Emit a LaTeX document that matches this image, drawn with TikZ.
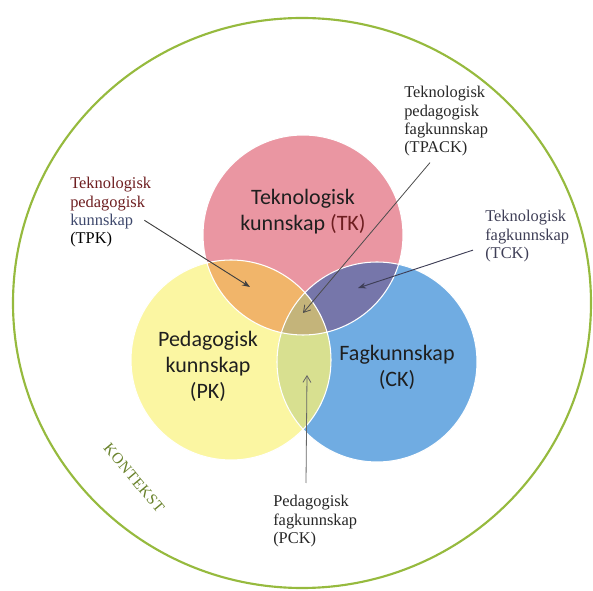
\documentclass[tikz,border=0pt]{standalone}
\usepackage{fontspec}
\setmainfont{Liberation Serif}
\newfontfamily\vennfont{Carlito}
\newfontfamily\ringfont[LetterSpace=4]{Liberation Serif}
\usepackage{xcolor}
\usepackage{tikz}
\usetikzlibrary{positioning,calc,arrows.meta}

\definecolor{tkpink}{RGB}{234,150,162}
\definecolor{pkyellow}{RGB}{251,246,162}
\definecolor{ckblue}{RGB}{112,172,226}
\definecolor{tpkorange}{RGB}{241,181,106}
\definecolor{tckslate}{RGB}{118,118,170}
\definecolor{pckgreen}{RGB}{216,224,144}
\definecolor{tpackolive}{RGB}{196,180,122}
\definecolor{ringgreen}{RGB}{150,186,62}
\definecolor{labelred}{RGB}{110,30,32}
\definecolor{labelblue}{RGB}{62,72,108}
\definecolor{labelslate}{RGB}{62,62,86}

\def\circTK{(303,235) circle[radius=100]}
\def\circPK{(231,360) circle[radius=100]}
\def\circCK{(377,362) circle[radius=100]}

\tikzset{
  bigtext/.style={font=\vennfont\fontsize{16.5}{19.5}\selectfont, align=center, text=black!88},
  smalltext/.style={font=\fontsize{12.3}{13.8}\selectfont, align=left, anchor=north west, inner sep=0pt},
  pointer/.style={-{Stealth[length=6pt,width=4.5pt]}, line width=0.7pt, draw=black!75},
  barbpointer/.style={-{Straight Barb[length=5pt,width=6pt]}, line width=0.6pt, draw=black!60},
}

\begin{document}
\begin{tikzpicture}[x=0.75pt, y=-0.75pt]
  \useasboundingbox (0,0) rectangle (593,591);

  % outer context ring
  \draw[ringgreen, line width=1.6pt] (302,303) ellipse[x radius=289, y radius=285];
  \node[rotate=-50, text=ringgreen!70!black, font=\ringfont\fontsize{11.5}{13}\selectfont, inner sep=0pt] (kontekst) at (134,478) {KONTEKST};

  % the three circles
  \fill[tkpink] \circTK;
  \fill[pkyellow] \circPK;
  \fill[ckblue] \circCK;
  \begin{scope}
    \clip \circTK;
    \fill[tpkorange] \circPK;
    \fill[tckslate] \circCK;
  \end{scope}
  \begin{scope}
    \clip \circPK;
    \fill[pckgreen] \circCK;
  \end{scope}
  \begin{scope}
    \clip \circTK;
    \clip \circPK;
    \fill[tpackolive] \circCK;
  \end{scope}
  \draw[white, line width=0.8pt] \circTK \circPK \circCK;

  % circle texts
  \node[bigtext] (tk) at (303,212) {Teknologisk\\kunnskap \textcolor{labelred}{(TK)}};
  \node[bigtext] (pk) at (208,366) {Pedagogisk\\kunnskap\\(PK)};
  \node[bigtext] (ck) at (397,367) {Fagkunnskap\\(CK)};

  % labels
  \node[smalltext, text=black!85] (tpack) at (404,86) {Teknologisk\\pedagogisk\\fagkunnskap\\(TPACK)};
  \node[smalltext] (tpk) at (70,177) {\textcolor{labelred}{Teknologisk}\\\textcolor{labelred}{pedagogisk}\\\textcolor{labelblue}{kunnskap}\\(TPK)};
  \node[smalltext, text=labelslate] (tck) at (485,210) {Teknologisk\\fagkunnskap\\(TCK)};
  \node[smalltext, text=black!85] (pck) at (273,495) {Pedagogisk\\fagkunnskap\\(PCK)};

  % arrow tips inside the regions
  \coordinate (tpk-tip) at (250,287);
  \coordinate (tpack-tip) at (303,313);
  \coordinate (tck-tip) at (358,288);
  \coordinate (pck-tip) at (307,375);

  \draw[pointer] ([shift={(-7,8)}]tpk.east) -- (tpk-tip);
  \draw[barbpointer, draw=black!70] ([shift={(26,6)}]tpack.south west) -- (tpack-tip);
  \draw[pointer, draw=labelslate] ([shift={(-12,14)}]tck.west) -- (tck-tip);
  \draw[barbpointer] ([shift={(33,-12)}]pck.north west) -- (pck-tip);
\end{tikzpicture}
\end{document}
